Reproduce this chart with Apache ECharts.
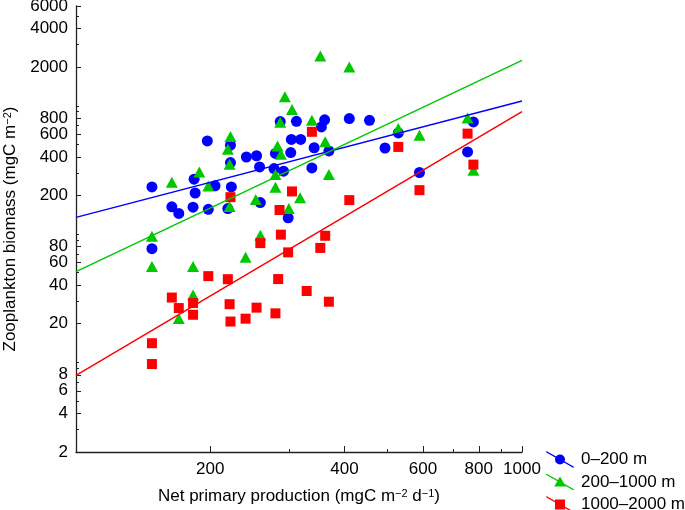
<!DOCTYPE html>
<html><head><meta charset="utf-8">
<script src="https://cdn.jsdelivr.net/npm/echarts@6/dist/echarts.min.js"></script>
<style>html,body{margin:0;padding:0;background:#fff}#c{width:685px;height:510px}</style>
</head><body><div id="c"></div>
<script>
// ---- data ----
const seriesNames = ['0–200 m', '200–1000 m', '1000–2000 m'];

const blueX = [148,164,170,183,184,185,197,198,205,222,222,223,219,241,254,258,259,280,278,287,292,303,304,312,319,299,338,342,355,361,369,410,455,493,528,589,755,778,148];
const blueY = [233,163,145,162,268,209,532,156,238,493,361,233,158,399,408,334,176,425,324,753,309,432,547,757,547,134,328,471,684,778,445,795,771,469,614,302,437,748,77];

const greenX = [164,189,198,222,219,221,221,148,148,253,280,280,283,288,287,294,305,338,362,369,353,300,318,259,410,528,589,755,778,183,240,183,170];
const greenY = [253,305,237,576,458,350,164,96,56,186,232,292,485,419,743,1178,936,771,524,291,2440,158,192,98,2004,664,589,803,315,56,66,33.5,22];

const redX = [222,305,286,288,259,299,362,353,198,219,284,164,170,183,183,221,254,222,240,280,329,369,148,148,338,528,755,778,589,410];
const redY = [194,215,154,99,85,72,97,78,47,44.5,44.6,32,26.5,29,23.5,28.4,26.7,20.8,21.9,24.1,36,29.7,14.1,9.7,627,478,607,348,220,184];

// regression lines (end points)
const fitX = [100, 1000];
const blueFitY = [135, 1090];
const greenFitY = [51, 2260];
const redFitY = [7.9, 900];

// axes
const xRange = [100, 1000];
const yRange = [2, 6000];
const xLabelValues = [200, 400, 600, 800, 1000];
const xMinorTicks = [300, 500, 700, 900];
const yLabelValues = [2,4,6,8,20,40,60,80,200,400,600,800,2000,4000,6000];
const yMinorTicks = [3,5,7,9,10,30,50,70,90,100,300,500,700,900,1000,3000,5000];

// ---- chart ----
const L = Math.log10;
const pts = (xs, ys) => xs.map((x, i) => [L(x), L(ys[i])]);
const FONT = "'Liberation Sans', Arial, Helvetica, sans-serif";
const BLUE = '#0000FF', GREEN = '#00C800', RED = '#FF0000';
const AX = '#222';
const fmt = v => String(Math.round(Math.pow(10, v)));

const band = 'M0,0 L1.31,0 L28,15.25 L28,16 L26.69,16 L0,0.75 Z ';
const iconCircle = 'path://' + band + 'M9,8 A5,5 0 1 1 19,8 A5,5 0 1 1 9,8 Z';
const iconTri = 'path://' + band + 'M14,2.5 L19.8,12.5 L8.2,12.5 Z';
const iconRect = 'path://' + band + 'M9,3 L19,3 L19,13 L9,13 Z';

const richName = {
  a: {fontSize: 17, fontFamily: FONT, color: '#000'},
  s: {fontSize: 11, fontFamily: FONT, color: '#000', verticalAlign: 'top'}
};

const chart = echarts.init(document.getElementById('c'), null, {renderer: 'canvas'});
chart.setOption({
  animation: false,
  backgroundColor: '#fff',
  grid: {left: 76, right: 163, top: 6, bottom: 58, containLabel: false, outerBoundsMode: 'none'},
  xAxis: [{
    type: 'value', min: L(xRange[0]), max: L(xRange[1]), position: 'bottom',
    axisLine: {show: true, lineStyle: {color: AX, width: 1.3}},
    axisTick: {show: true, inside: true, length: 6, lineStyle: {color: AX, width: 1}, customValues: xLabelValues.map(L)},
    axisLabel: {show: true, margin: 9, fontSize: 17, fontFamily: FONT, color: '#000', customValues: xLabelValues.map(L), formatter: fmt},
    splitLine: {show: false},
    name: '{a|Net primary production (mgC m}{s|−2}{a| d}{s|−1}{a|)}',
    nameLocation: 'middle', nameGap: 36,
    nameTextStyle: {fontSize: 17, fontFamily: FONT, color: '#000', rich: richName}
  }, {
    type: 'value', min: L(xRange[0]), max: L(xRange[1]), position: 'bottom', offset: 0,
    axisLine: {show: false},
    axisTick: {show: true, inside: true, length: 3, lineStyle: {color: AX, width: 1}, customValues: xMinorTicks.map(L)},
    axisLabel: {show: false},
    splitLine: {show: false}
  }],
  yAxis: [{
    type: 'value', min: L(yRange[0]), max: L(yRange[1]), position: 'left',
    axisLine: {show: true, lineStyle: {color: AX, width: 1.3}},
    axisTick: {show: true, inside: true, length: 5, lineStyle: {color: AX, width: 1}, customValues: yLabelValues.map(L)},
    axisLabel: {show: true, margin: 8, fontSize: 17, fontFamily: FONT, color: '#000', customValues: yLabelValues.map(L), formatter: fmt},
    splitLine: {show: false},
    name: '{a|Zooplankton biomass (mgC m}{s|−2}{a|)}',
    nameLocation: 'middle', nameGap: 56, nameRotate: 90,
    nameTextStyle: {fontSize: 17, fontFamily: FONT, color: '#000', rich: richName}
  }, {
    type: 'value', min: L(yRange[0]), max: L(yRange[1]), position: 'left', offset: 0,
    axisLine: {show: false},
    axisTick: {show: true, inside: true, length: 3, lineStyle: {color: AX, width: 1}, customValues: yMinorTicks.map(L)},
    axisLabel: {show: false},
    splitLine: {show: false}
  }],
  legend: {
    orient: 'vertical', left: 546, top: 451, height: 120, padding: 0, itemGap: 5.5,
    itemWidth: 28, itemHeight: 16, selectedMode: false,
    textStyle: {fontSize: 17, lineHeight: 16, fontFamily: FONT, color: '#000', padding: [0, 0, 0, 2]},
    data: [
      {name: seriesNames[0], icon: iconCircle},
      {name: seriesNames[1], icon: iconTri},
      {name: seriesNames[2], icon: iconRect}
    ]
  },
  series: [
    {name: seriesNames[0], type: 'scatter', symbol: 'circle', symbolSize: 11, itemStyle: {color: BLUE, opacity: 1}, data: pts(blueX, blueY)},
    {name: seriesNames[1], type: 'scatter', symbol: 'triangle', symbolSize: [12, 11], itemStyle: {color: GREEN, opacity: 1}, data: pts(greenX, greenY)},
    {name: seriesNames[2], type: 'scatter', symbol: 'rect', symbolSize: 10, itemStyle: {color: RED, opacity: 1}, data: pts(redX, redY)},
    {name: 'fit0', type: 'line', symbol: 'none', silent: true, lineStyle: {color: BLUE, width: 1.5}, data: pts(fitX, blueFitY), z: 3},
    {name: 'fit1', type: 'line', symbol: 'none', silent: true, lineStyle: {color: GREEN, width: 1.5}, data: pts(fitX, greenFitY), z: 3},
    {name: 'fit2', type: 'line', symbol: 'none', silent: true, lineStyle: {color: RED, width: 1.5}, data: pts(fitX, redFitY), z: 3}
  ]
});
</script>
</body></html>
